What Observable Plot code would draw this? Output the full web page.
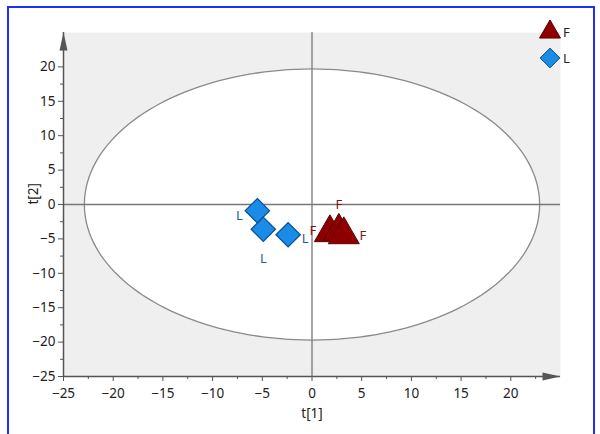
<!DOCTYPE html>
<html>
<head>
<meta charset="utf-8">
<script src="https://cdn.jsdelivr.net/npm/d3@7"></script>
<script src="https://cdn.jsdelivr.net/npm/@observablehq/plot@0.6"></script>
<style>
  html, body { margin: 0; padding: 0; background: #fff; overflow: hidden; }
  #wrap { position: relative; width: 600px; height: 434px; overflow: hidden; }
  #frame { position: absolute; left: 7px; top: 6px; width: 588px; height: 440px; border: 2px solid #1f2bff; box-sizing: border-box; pointer-events: none; }
  #legend { position: absolute; left: 538px; top: 19px; font-family: "Noto Sans", sans-serif; font-size: 13px; color: #222; }
  #legend .row { display: flex; align-items: center; height: 26px; }
  #legend svg { margin-right: 1px; }
</style>
</head>
<body>
<div id="wrap">
  <div id="chart"></div>
  <div id="legend"></div>
  <div id="frame"></div>
</div>
<script>
// ---- data ----
const groups = ["F", "L"];
const F_t1 = [1.8, 2.7, 3.2];
const F_t2 = [-4.1, -3.9, -4.4];
const L_t1 = [-5.5, -4.9, -2.4];
const L_t2 = [-0.9, -3.6, -4.4];
const majorTicks = [-25, -20, -15, -10, -5, 0, 5, 10, 15, 20];
const minorTicks = [-22.5, -17.5, -12.5, -7.5, -2.5, 2.5, 7.5, 12.5, 17.5, 22.5];
const ellipseRx = 22.9;   // Hotelling T2 ellipse radii
const ellipseRy = 19.7;
const xLabel = "t[1]";
const yLabel = "t[2]";

// ---- build tables ----
const pointsF = F_t1.map((v, i) => ({t1: v, t2: F_t2[i], group: "F", i}));
const pointsL = L_t1.map((v, i) => ({t1: v, t2: L_t2[i], group: "L", i}));
const ellipse = d3.range(0, 361, 2).map(a => {
  const r = a * Math.PI / 180;
  return {t1: ellipseRx * Math.cos(r), t2: ellipseRy * Math.sin(r)};
});

const fillF = "#8e0000", strokeF = "#5c0000", textF = "#7a1515";
const fillL = "#1a8be6", strokeL = "#0b4f8f", textL = "#1d5c8c";
const axisColor = "#555";

const arrowHead = {
  draw(ctx) { ctx.moveTo(0, 0); ctx.lineTo(-4, 18); ctx.lineTo(4, 18); ctx.closePath(); }
};

// label offsets per point (style, not data)
const offF = [[-17, -2], [0, -27], [19, 1]];
const offL = [[-18, 5], [0, 30], [17, 4]];

const labelMarks = [];
offF.forEach(([dx, dy], k) => labelMarks.push(Plot.text(pointsF.filter(d => d.i === k), {x: "t1", y: "t2", text: "group", dx, dy, fill: textF, fontSize: 13})));
offL.forEach(([dx, dy], k) => labelMarks.push(Plot.text(pointsL.filter(d => d.i === k), {x: "t1", y: "t2", text: "group", dx, dy, fill: textL, fontSize: 13})));

const chart = Plot.plot({
  width: 600,
  height: 434,
  marginLeft: 63,
  marginRight: 40,
  marginTop: 32,
  marginBottom: 58,
  style: {fontFamily: "'Noto Sans', sans-serif", fontSize: "13.5px", color: "#222", background: "transparent"},
  x: {domain: [-25, 25]},
  y: {domain: [-25, 25]},
  marks: [
    Plot.frame({fill: "#efefef", stroke: null}),
    Plot.line(ellipse, {x: "t1", y: "t2", fill: "white", stroke: "#8a8a8a", strokeWidth: 1.3}),
    Plot.ruleX([0], {stroke: "#777", strokeWidth: 1.3}),
    Plot.ruleY([0], {stroke: "#777", strokeWidth: 1.3}),
    Plot.axisX(majorTicks, {tickSize: 5, tickPadding: 7, stroke: axisColor, fill: "#222", label: null, fontSize: 13.5}),
    Plot.axisX(minorTicks, {tickSize: 3, tickFormat: () => "", stroke: axisColor, label: null}),
    Plot.axisY(majorTicks, {tickSize: 5, tickPadding: 3, stroke: axisColor, fill: "#222", label: null, fontSize: 13.5}),
    Plot.axisY(minorTicks, {tickSize: 3, tickFormat: () => "", stroke: axisColor, label: null}),
    Plot.ruleY([-25], {stroke: axisColor, strokeWidth: 1.5}),
    Plot.ruleX([-25], {stroke: axisColor, strokeWidth: 1.5}),
    Plot.dot([{t1: -25, t2: 25}], {x: "t1", y: "t2", symbol: arrowHead, fill: axisColor, stroke: null, clip: false}),
    Plot.dot([{t1: 25, t2: -25}], {x: "t1", y: "t2", symbol: arrowHead, rotate: 90, fill: axisColor, stroke: null, clip: false}),
    Plot.dot(pointsL, {x: "t1", y: "t2", symbol: "diamond2", r: 11, fill: fillL, stroke: strokeL, strokeWidth: 1.2}),
    Plot.dot(pointsF, {x: "t1", y: "t2", symbol: "triangle", r: 11.5, fill: fillF, stroke: strokeF, strokeWidth: 1}),
    ...labelMarks,
    Plot.text([xLabel], {frameAnchor: "bottom", dy: 41, fill: "#222", fontSize: 13.5}),
    Plot.text([yLabel], {frameAnchor: "left", dx: -30, rotate: -90, fill: "#222", fontSize: 13.5})
  ]
});
document.getElementById("chart").appendChild(chart);

// legend
const legend = document.getElementById("legend");
const symbols = {F: {type: d3.symbolTriangle, fill: fillF, stroke: strokeF}, L: {type: d3.symbolDiamond2, fill: fillL, stroke: strokeL}};
groups.forEach(g => {
  const row = document.createElement("div");
  row.className = "row";
  const s = symbols[g];
  const path = d3.symbol(s.type, g === "F" ? 190 : 250)();
  row.innerHTML = `<svg width="24" height="24" viewBox="-12 -12 24 24"><path d="${path}" fill="${s.fill}" stroke="${s.stroke}" stroke-width="1"/></svg><span>${g}</span>`;
  legend.appendChild(row);
});
</script>
</body>
</html>
